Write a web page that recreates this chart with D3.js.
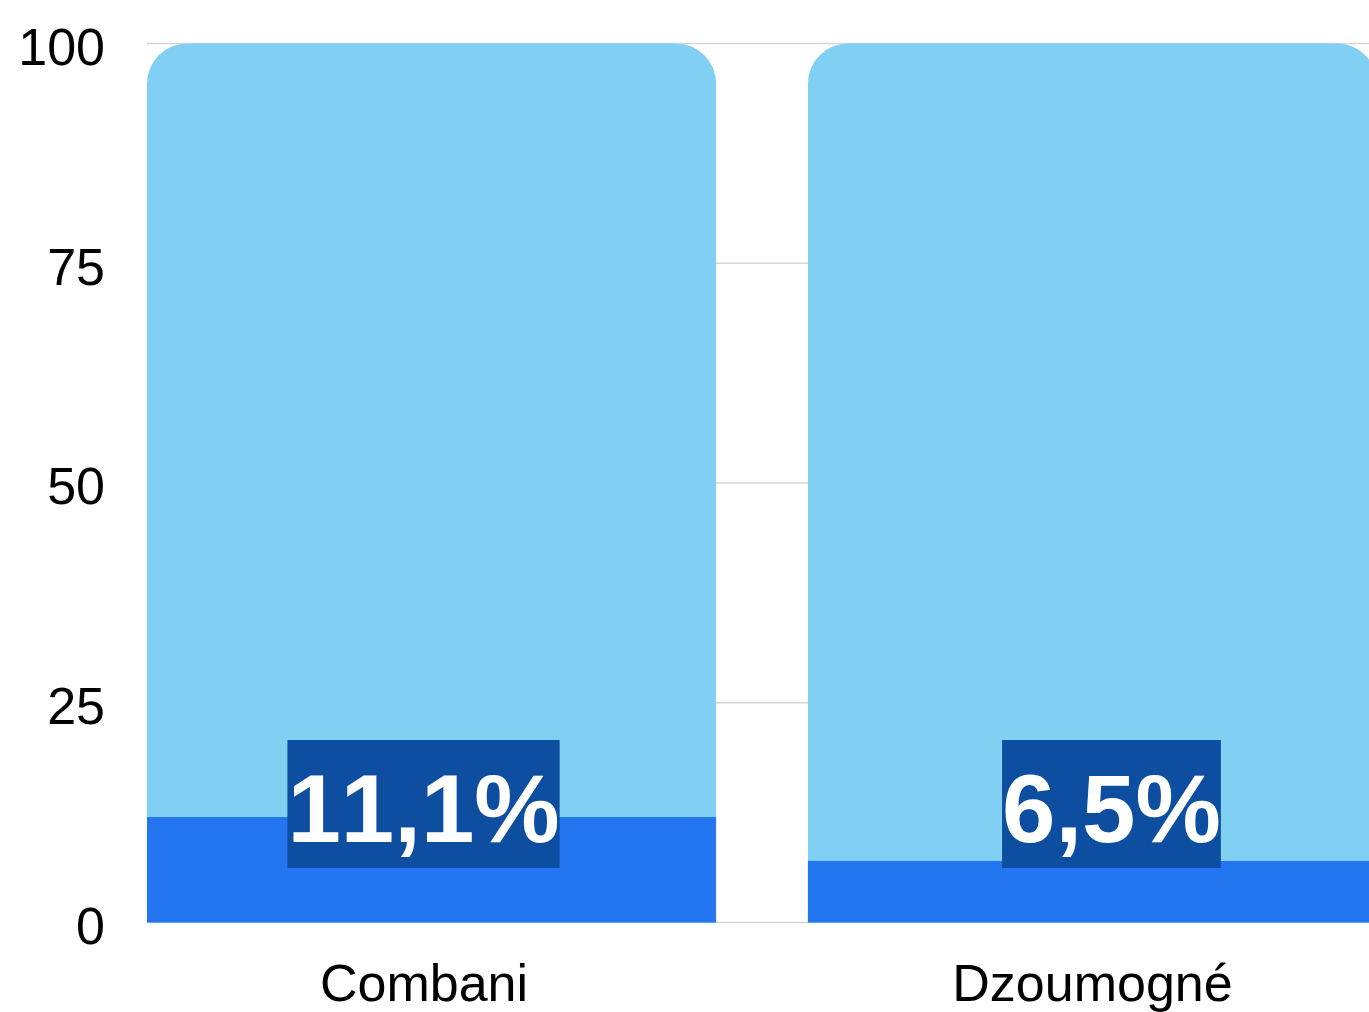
<!DOCTYPE html>
<html>
<head>
<meta charset="utf-8">
<script src="https://cdn.jsdelivr.net/npm/d3@7"></script>
<style>
  html, body { margin: 0; padding: 0; background: #fff; }
  svg { display: block; font-family: "Liberation Sans", Arial, sans-serif; font-kerning: none; }
</style>
</head>
<body>
<div id="chart"></div>
<script>
// data
const categories = ['Combani', 'Dzoumogné'];
const totalValues = [100, 100];
const shareValues = [12.0, 7.0];
const shareLabels = ['11,1%', '6,5%'];
const yTicks = [0, 25, 50, 75, 100];

const W = 1369, H = 1012;
const svg = d3.select('#chart').append('svg').attr('width', W).attr('height', H);

const x = d3.scaleBand().domain(categories).range([147, 1377]).paddingInner(0.139).paddingOuter(0);
const y = d3.scaleLinear().domain([0, 100]).range([922.5, 43.5]);

// gridlines behind bars
svg.append('g').selectAll('line').data(yTicks).enter().append('line')
  .attr('x1', 147).attr('x2', W)
  .attr('y1', d => y(d)).attr('y2', d => y(d))
  .attr('stroke', '#d6d6d6').attr('stroke-width', 1.5);

// y tick labels
svg.append('g').selectAll('text').data(yTicks).enter().append('text')
  .attr('x', 105).attr('y', d => y(d)).attr('dy', '0.41em')
  .attr('text-anchor', 'end').attr('font-size', '52px').attr('fill', '#000')
  .text(d => d);

// top-rounded bar path
function topRounded(x0, w, yTop, yBot, r) {
  return `M${x0},${yBot}V${yTop + r}A${r},${r} 0 0 1 ${x0 + r},${yTop}` +
    `H${x0 + w - r}A${r},${r} 0 0 1 ${x0 + w},${yTop + r}V${yBot}Z`;
}

svg.append('g').selectAll('path').data(totalValues).enter().append('path')
  .attr('d', (d, i) => topRounded(x(categories[i]), x.bandwidth(), y(d), y(0), 40))
  .attr('fill', '#82CFF4');

svg.append('g').selectAll('rect').data(shareValues).enter().append('rect')
  .attr('x', (_, i) => x(categories[i])).attr('width', x.bandwidth())
  .attr('y', d => y(d)).attr('height', d => y(0) - y(d))
  .attr('fill', '#2376F0');

// value labels on dark boxes
const nudge = [-8, 19];
const boxTop = y(0) - 182.5, boxH = 128;
const labels = svg.append('g');
shareLabels.forEach((lab, i) => {
  const cx = x(categories[i]) + x.bandwidth() / 2 + nudge[i];
  const g = labels.append('g');
  const rect = g.append('rect').attr('fill', '#0E4EA1');
  const txt = g.append('text')
    .attr('x', cx).attr('y', boxTop + boxH / 2 + 38)
    .attr('text-anchor', 'middle').attr('font-size', '96px').attr('font-weight', 'bold')
    .attr('fill', '#fff').text(lab);
  const w = txt.node().getComputedTextLength();
  rect.attr('x', cx - w / 2).attr('y', boxTop).attr('width', w).attr('height', boxH);
});

// category labels
svg.append('g').selectAll('text').data(categories).enter().append('text')
  .attr('x', (d, i) => x(d) + x.bandwidth() / 2 + (i === 0 ? -7.5 : 0))
  .attr('y', 1001)
  .attr('text-anchor', 'middle').attr('font-size', '52px').attr('fill', '#000')
  .text(d => d);
</script>
</body>
</html>
